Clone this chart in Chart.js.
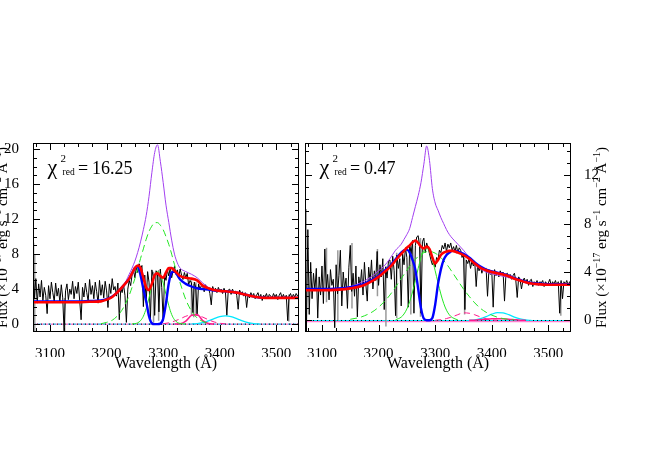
<!DOCTYPE html>
<html>
<head>
<meta charset="utf-8">
<script src="https://cdn.jsdelivr.net/npm/chart.js@4.4.0/dist/chart.umd.min.js"></script>
<style>
  html, body { margin: 0; padding: 0; background: #fff; }
  #wrap { position: relative; width: 664px; height: 475px; }
  canvas { position: absolute; left: 0; top: 0; }
</style>
</head>
<body>
<div id="wrap">
  <canvas id="left" width="664" height="475"></canvas>
  <canvas id="right" width="664" height="475"></canvas>
</div>
<script>
// observed spectra, 2.5 A steps
const specWave = [
  3070, 3072.5, 3075, 3077.5, 3080, 3082.5, 3085, 3087.5, 3090, 3092.5,
  3095, 3097.5, 3100, 3102.5, 3105, 3107.5, 3110, 3112.5, 3115, 3117.5,
  3120, 3122.5, 3125, 3127.5, 3130, 3132.5, 3135, 3137.5, 3140, 3142.5,
  3145, 3147.5, 3150, 3152.5, 3155, 3157.5, 3160, 3162.5, 3165, 3167.5,
  3170, 3172.5, 3175, 3177.5, 3180, 3182.5, 3185, 3187.5, 3190, 3192.5,
  3195, 3197.5, 3200, 3202.5, 3205, 3207.5, 3210, 3212.5, 3215, 3217.5,
  3220, 3222.5, 3225, 3227.5, 3230, 3232.5, 3235, 3237.5, 3240, 3242.5,
  3245, 3247.5, 3250, 3252.5, 3255, 3257.5, 3260, 3262.5, 3265, 3267.5,
  3270, 3272.5, 3275, 3277.5, 3280, 3282.5, 3285, 3287.5, 3290, 3292.5,
  3295, 3297.5, 3300, 3302.5, 3305, 3307.5, 3310, 3312.5, 3315, 3317.5,
  3320, 3322.5, 3325, 3327.5, 3330, 3332.5, 3335, 3337.5, 3340, 3342.5,
  3345, 3347.5, 3350, 3352.5, 3355, 3357.5, 3360, 3362.5, 3365, 3367.5,
  3370, 3372.5, 3375, 3377.5, 3380, 3382.5, 3385, 3387.5, 3390, 3392.5,
  3395, 3397.5, 3400, 3402.5, 3405, 3407.5, 3410, 3412.5, 3415, 3417.5,
  3420, 3422.5, 3425, 3427.5, 3430, 3432.5, 3435, 3437.5, 3440, 3442.5,
  3445, 3447.5, 3450, 3452.5, 3455, 3457.5, 3460, 3462.5, 3465, 3467.5,
  3470, 3472.5, 3475, 3477.5, 3480, 3482.5, 3485, 3487.5, 3490, 3492.5,
  3495, 3497.5, 3500, 3502.5, 3505, 3507.5, 3510, 3512.5, 3515, 3517.5,
  3520, 3522.5, 3525, 3527.5, 3530, 3532.5, 3535, 3537.5, 3540
];
const specLeft = [
  6.5, 3.0, 5.2, 2.4, 4.6, 3.1, 5.0, 2.7, 4.2, 3.3,
  1.2, 4.4, 2.9, 4.8, 3.6, 2.6, 4.7, 3.2, 4.1, 2.5,
  4.5, 3.0, -0.9, 3.8, 4.6, 2.8, 4.0, 3.4, 4.9, 2.9,
  4.3, 3.5, 4.8, 2.7, 0.5, 4.2, 3.1, 4.7, 3.6, 2.6,
  5.1, 3.4, 4.4, 2.9, 4.8, 3.7, 2.4, 5.0, 3.3, 4.5,
  3.0, 4.9, 3.8, 1.9, 4.6, 3.5, 5.2, 3.9, 4.3, 3.2,
  4.7, 0.5, 4.1, 3.6, 4.5, 3.3, 0.2, 4.0, 5.0, 4.4,
  5.6, 6.2, 5.3, 6.5, 5.9, 6.9, 6.3, 6.7, 2.0, 5.6,
  2.5, 6.0, 4.8, 0.6, 6.2, 5.4, 1.0, 6.1, 5.7, 1.4,
  6.3, 4.2, 0.4, 5.6, 5.0, 6.2, 5.5, 6.5, 5.3, 6.1,
  6.6, 5.7, 6.2, 5.4, 6.3, 5.6, 5.1, 5.9, 5.3, 5.8,
  4.5, 5.0, 4.7, 1.3, 4.8, 4.2, 1.0, 4.6, 4.0, 4.4,
  4.3, 3.7, 4.5, 3.9, 4.2, 3.5, 2.2, 4.3, 3.8, 4.1,
  3.6, 4.2, 3.8, 4.0, 3.5, 4.1, 3.7, 1.0, 3.9, 4.0,
  3.4, 4.0, 3.6, 3.8, 3.3, 1.7, 3.9, 3.5, 3.7, 3.2,
  3.6, 1.9, 3.4, 3.0, 3.6, 3.2, 3.5, 2.9, 3.3, 3.6,
  3.0, 3.4, 2.7, 3.3, 3.1, 3.5, 2.9, 3.4, 3.2, 3.0,
  3.5, 3.1, 3.4, 2.8, 3.3, 3.6, 3.0, 3.4, 2.9, 3.3,
  0.4, 3.2, 3.5, 3.0, 3.4, 3.1, 3.5, 3.2, 3.4
];
const specRight = [
  9.2, -0.9, 7.5, 0.5, 4.8, 1.8, 3.9, 2.5, 4.3, 0.2,
  3.6, 2.1, 4.5, 1.4, 5.9, 2.6, 3.8, 1.7, 4.2, 2.9,
  3.4, -0.6, 4.6, 2.2, 3.7, 5.8, 1.2, 4.0, 2.6, 3.5,
  1.0, 4.4, 6.2, 2.4, 3.9, 2.0, 4.5, 0.3, 3.6, 2.8,
  4.2, 2.1, 4.8, 3.0, 1.6, 4.4, 3.2, 5.0, 2.6, 4.1,
  3.3, 5.7, 2.9, 4.6, 3.6, 5.1, 0.9, 4.4, 3.5, 4.9,
  5.0, 3.4, 5.3, 4.1, 0.4, 5.4, 4.3, 5.1, 1.2, 5.5,
  4.6, 6.0, 5.2, 1.1, 6.3, 5.5, 6.6, 0.6, 6.2, 6.9,
  7.0, 6.1, 0.6, 6.5, 6.8, 5.6, 6.4, 6.0, 5.5, 5.0,
  4.6, 4.9, 4.4, 5.2, 5.0, 5.8, 5.6, 6.2, 5.9, 6.4,
  5.7, 6.3, 6.0, 6.4, 5.8, 6.1, 5.7, 6.2, 5.6, 6.0,
  5.8, 5.2, 5.5, 0.9, 5.0, 4.7, 5.1, 4.3, 4.9, 4.5,
  4.8, 2.8, 4.6, 4.1, 4.5, 3.9, 4.4, 4.2, 4.3, 2.0,
  4.2, 3.8, 4.1, 1.1, 4.2, 3.7, 4.0, 3.6, 4.1, 3.8,
  4.0, 1.6, 3.8, 3.9, 3.5, 3.8, 3.4, 3.7, 3.9, 3.3,
  1.9, 3.6, 3.4, 2.6, 3.3, 3.5, 3.1, 3.4, 2.9, 3.3,
  3.4, 2.8, 3.2, 3.0, 3.3, 2.9, 3.2, 3.1, 3.3, 2.8,
  3.2, 3.0, 3.1, 3.4, 2.9, 3.2, 3.0, 3.3, 2.9, 3.2,
  0.6, 3.3, 1.8, 3.2, 3.0, 3.3, 2.9, 3.2, 3.0
];

// masked pixels (grey), null breaks the line
const greyLeftWave = [3071, 3071, 3071, 3073, 3073, 3073, 3126, 3126, 3126, 3283, 3283, 3283,
  3292, 3292, 3292, 3350, 3350, 3350, 3354, 3354, 3354, 3358, 3358, 3358, 3522, 3522, 3522];
const greyLeftFlux = [9.3, -0.9, null, 8.0, -0.9, null, 3.0, -0.9, null, 6.0, 0.2, null,
  6.2, 0.4, null, 5.0, 1.0, null, 4.6, 0.8, null, 4.8, 1.2, null, 3.4, 0.3, null];
const greyRightWave = [3072, 3072, 3072, 3108, 3108, 3108, 3128, 3128, 3128, 3153, 3153, 3153,
  3198, 3198, 3198, 3213, 3213, 3213, 3232, 3232, 3232, 3257, 3257, 3257, 3274, 3274, 3274,
  3352, 3352, 3352, 3522, 3522, 3522];
const greyRightFlux = [9.2, -0.9, null, 6.0, 1.5, null, 5.8, 0.0, null, 6.4, 1.0, null,
  5.9, 2.0, null, 4.5, -0.5, null, 5.6, 0.2, null, 6.0, 0.5, null, 6.8, 0.3, null,
  5.2, 0.5, null, 3.2, 0.4, null];

// full-range model curves
const modelWave = [
  3070, 3100, 3130, 3150, 3170, 3190, 3200, 3210, 3220, 3230,
  3240, 3245, 3250, 3255, 3260, 3265, 3270, 3275, 3280, 3285,
  3290, 3295, 3300, 3305, 3310, 3315, 3320, 3325, 3330, 3340,
  3350, 3360, 3370, 3380, 3390, 3400, 3410, 3420, 3430, 3440,
  3450, 3460, 3470, 3480, 3500, 3520, 3540
];
const leftPurple = [
  2.5, 2.5, 2.5, 2.55, 2.6, 2.7, 2.85, 3.1, 3.6, 4.4,
  5.7, 6.4, 7.2, 8.2, 9.4, 10.8, 12.4, 14.6, 17.3, 19.6,
  20.5, 18.6, 16.2, 13.6, 11.6, 9.6, 8.0, 7.0, 6.4, 6.0,
  5.7, 5.3, 4.7, 4.2, 3.95, 3.85, 3.8, 3.75, 3.65, 3.5,
  3.3, 3.15, 3.05, 3.0, 3.0, 3.0, 3.0
];
const leftRed = [
  2.5, 2.5, 2.5, 2.5, 2.55, 2.6, 2.8, 3.1, 3.7, 4.4,
  5.2, 5.8, 6.4, 6.7, 6.4, 5.3, 4.2, 3.9, 4.6, 5.6,
  5.8, 5.5, 5.3, 5.9, 6.4, 6.4, 6.1, 5.8, 5.5, 5.3,
  5.2, 5.0, 4.4, 4.1, 3.9, 3.8, 3.75, 3.7, 3.6, 3.45,
  3.3, 3.15, 3.05, 3.0, 3.0, 3.0, 3.0
];
const leftBlue = [
  2.6, 2.6, 2.6, 2.6, 2.65, 2.7, 2.85, 3.15, 3.7, 4.4,
  5.2, 5.8, 6.4, 6.6, 5.6, 4.0, 2.6, 0.9, 0.1, 0.0,
  0.0, 0.05, 0.6, 2.4, 4.7, 5.9, 6.0, 5.6, 5.1, 4.6,
  4.3, 4.1, 4.0, 3.95, 3.85, 3.8, 3.75, 3.7, 3.6, 3.45,
  3.3, 3.15, 3.05, 3.0, 3.0, 3.0, 3.0
];
const rightPurple = [
  2.5, 2.5, 2.6, 2.8, 3.15, 3.7, 4.1, 4.5, 5.1, 5.8,
  6.3, 6.7, 7.1, 7.6, 8.5, 9.4, 10.3, 11.4, 12.9, 14.4,
  13.2, 10.9, 9.7, 9.1, 8.5, 8.0, 7.5, 7.1, 6.8, 6.3,
  5.8, 5.2, 4.6, 4.25, 4.0, 3.85, 3.75, 3.65, 3.55, 3.4,
  3.25, 3.1, 3.0, 2.95, 2.95, 2.95, 2.95
];
const rightRed = [
  2.5, 2.5, 2.55, 2.65, 2.85, 3.3, 3.6, 4.0, 4.4, 4.95,
  5.5, 5.75, 6.0, 6.2, 6.45, 6.6, 6.4, 6.1, 5.95, 6.1,
  5.9, 5.2, 4.7, 5.0, 5.4, 5.6, 5.7, 5.75, 5.75, 5.6,
  5.4, 5.1, 4.7, 4.35, 4.15, 4.0, 3.9, 3.8, 3.65, 3.45,
  3.3, 3.15, 3.05, 3.0, 2.95, 2.95, 2.95
];
const rightBlue = [
  2.6, 2.6, 2.65, 2.75, 2.95, 3.4, 3.7, 4.1, 4.5, 5.05,
  5.6, 5.8, 5.85, 5.6, 5.0, 4.2, 2.6, 1.0, 0.15, 0.02,
  0.02, 0.2, 1.3, 3.0, 4.2, 5.0, 5.4, 5.6, 5.75, 5.7,
  5.5, 5.2, 4.8, 4.45, 4.2, 4.05, 3.95, 3.85, 3.7, 3.5,
  3.35, 3.2, 3.1, 3.05, 3.0, 3.0, 3.0
];

// fit components, left panel
const leftBroadWave = [3190, 3200, 3210, 3220, 3230, 3240, 3245, 3250, 3255, 3260, 3265, 3270, 3275, 3280, 3285,
  3290, 3295, 3300, 3305, 3310, 3315, 3320, 3325, 3330, 3340, 3350, 3360, 3370, 3380];
const leftBroadFlux = [0.05, 0.2, 0.45, 1.0, 1.9, 3.3, 4.2, 5.2, 6.3, 7.5, 8.6, 9.7, 10.6, 11.2, 11.6,
  11.6, 11.3, 10.8, 10.0, 9.1, 8.0, 6.8, 5.7, 4.7, 2.8, 1.5, 0.7, 0.3, 0.1];
const leftNarrowWave = [3245, 3250, 3255, 3260, 3265, 3270, 3275, 3280, 3285, 3290,
  3295, 3300, 3305, 3310, 3315, 3320, 3325, 3330, 3340];
const leftNarrowFlux = [0.02, 0.05, 0.15, 0.4, 0.9, 1.8, 3.0, 4.4, 5.5, 6.0,
  5.7, 4.7, 3.4, 2.1, 1.1, 0.5, 0.2, 0.07, 0.01];
const leftPinkDashWave = [3300, 3310, 3320, 3330, 3340, 3350, 3360, 3370, 3380, 3390, 3400, 3410];
const leftPinkDashFlux = [0.05, 0.15, 0.35, 0.6, 0.9, 1.05, 1.0, 0.8, 0.5, 0.25, 0.1, 0.03];
const leftPinkWave = [3320, 3330, 3340, 3350, 3360, 3370, 3380, 3390];
const leftPinkFlux = [0.01, 0.05, 0.35, 1.0, 1.1, 0.4, 0.08, 0.01];
const leftCyanWave = [3350, 3360, 3370, 3380, 3390, 3400, 3410, 3420, 3430, 3440, 3450, 3460, 3470];
const leftCyanFlux = [0.02, 0.07, 0.18, 0.37, 0.63, 0.86, 0.95, 0.86, 0.63, 0.37, 0.18, 0.07, 0.02];

// fit components, right panel
const rightBroadWave = [3150, 3170, 3190, 3200, 3210, 3220, 3230,
  3240, 3245, 3250, 3255, 3260, 3265, 3270, 3275, 3280, 3285, 3290, 3295, 3300, 3305, 3310, 3315, 3320, 3325, 3330,
  3340, 3350, 3360, 3370, 3380, 3390, 3400, 3410, 3420, 3430, 3440];
const rightBroadFlux = [0.1, 0.3, 0.74, 1.1, 1.55, 2.1, 2.76,
  3.46, 3.8, 4.15, 4.48, 4.78, 5.05, 5.29, 5.47, 5.6, 5.68, 5.7, 5.66, 5.56, 5.4, 5.2, 4.95, 4.67, 4.35, 4.0,
  3.3, 2.6, 2.0, 1.45, 1.0, 0.68, 0.44, 0.27, 0.16, 0.09, 0.05];
const rightNarrowWave = [3230, 3240, 3245, 3250, 3255, 3260, 3265, 3270, 3275, 3280, 3285,
  3290, 3295, 3300, 3305, 3310, 3315, 3320, 3325, 3330, 3340];
const rightNarrowFlux = [0.06, 0.28, 0.54, 0.95, 1.56, 2.36, 3.31, 4.31, 5.19, 5.77, 5.96,
  5.69, 5.03, 4.11, 3.12, 2.19, 1.42, 0.85, 0.47, 0.25, 0.05];
const rightPinkDashWave = [3300, 3310, 3320, 3330, 3340, 3350, 3360, 3370, 3380, 3390, 3400, 3410];
const rightPinkDashFlux = [0.02, 0.07, 0.16, 0.3, 0.48, 0.63, 0.6, 0.47, 0.29, 0.14, 0.05, 0.02];
const rightPinkWave = [3360, 3370, 3380, 3390, 3400, 3410, 3420, 3430, 3440, 3450, 3460];
const rightPinkFlux = [0.01, 0.03, 0.07, 0.11, 0.14, 0.15, 0.14, 0.11, 0.07, 0.03, 0.01];
const rightCyanWave = [3360, 3370, 3380, 3390, 3400, 3410, 3420, 3430, 3440, 3450, 3460, 3470];
const rightCyanFlux = [0.02, 0.06, 0.16, 0.32, 0.52, 0.65, 0.63, 0.48, 0.28, 0.13, 0.05, 0.01];

// zero levels
const baseWave = [3070, 3540];
const baseZero = [0, 0];
const basePinkRight = [-0.1, -0.1];

// axes
const xTicks = [3100, 3200, 3300, 3400, 3500];
const yTicksLeft = [0, 4, 8, 12, 16, 20];
const yTicksRight = [0, 4, 8, 12];
const chiLeft = '16.25';
const chiRight = '0.47';
const fluxParts = [['Flux (\u00d710', 0], ['\u221217', 1], [' erg s', 0], ['\u22121', 1],
  [' cm', 0], ['\u22122', 1], [' \u00c5', 0], ['\u22121', 1], [')', 0]];

const SERIF = "'Liberation Serif', 'DejaVu Serif', 'Times New Roman', serif";
Chart.defaults.font.family = SERIF;
Chart.defaults.color = '#000';

function pts(xs, ys) {
  return xs.map((x, i) => ({ x: x, y: ys[i] }));
}

function line(xs, ys, color, width, order, extra) {
  return Object.assign({
    data: pts(xs, ys),
    borderColor: color,
    borderWidth: width,
    pointRadius: 0,
    pointHoverRadius: 0,
    fill: false,
    order: order,
    cubicInterpolationMode: 'monotone',
    spanGaps: false
  }, extra || {});
}

function drawFluxTitle(ctx, x, y) {
  ctx.save();
  ctx.translate(x, y);
  ctx.rotate(-Math.PI / 2);
  const big = '15px ' + SERIF, small = '10px ' + SERIF;
  let total = 0;
  fluxParts.forEach(p => { ctx.font = p[1] ? small : big; total += ctx.measureText(p[0]).width; });
  let cx = -total / 2;
  ctx.textAlign = 'left';
  ctx.textBaseline = 'alphabetic';
  fluxParts.forEach(p => {
    ctx.font = p[1] ? small : big;
    ctx.fillText(p[0], cx, p[1] ? -6 : 0);
    cx += ctx.measureText(p[0]).width;
  });
  ctx.restore();
}

// frame with inward ticks on all four sides, chi^2 label and axis titles
const framePlugin = {
  id: 'frame',
  afterDraw(chart, args, opts) {
    const ctx = chart.ctx, a = chart.chartArea;
    const xs = chart.scales.x, ys = chart.scales.y;
    ctx.save();
    ctx.strokeStyle = '#000';
    ctx.lineWidth = 1;
    ctx.strokeRect(a.left + 0.5, a.top + 0.5, a.right - a.left - 1, a.bottom - a.top - 1);
    ctx.beginPath();
    for (let v = 3075; v <= xs.max; v += 25) {
      const px = Math.round(xs.getPixelForValue(v)) + 0.5;
      const len = v % 100 === 0 ? 7 : 4;
      ctx.moveTo(px, a.bottom); ctx.lineTo(px, a.bottom - len);
      ctx.moveTo(px, a.top); ctx.lineTo(px, a.top + len);
    }
    for (let v = Math.ceil(ys.min); v <= ys.max; v += 1) {
      const py = Math.round(ys.getPixelForValue(v)) + 0.5;
      const len = v % 4 === 0 ? 7 : 4;
      ctx.moveTo(a.left, py); ctx.lineTo(a.left + len, py);
      ctx.moveTo(a.right, py); ctx.lineTo(a.right - len, py);
    }
    ctx.stroke();

    const L = a.left, T = a.top;
    ctx.fillStyle = '#000';
    ctx.textAlign = 'left';
    ctx.textBaseline = 'alphabetic';
    ctx.font = '22px ' + SERIF;
    ctx.fillText('\u03c7', L + 14.5, T + 31);
    ctx.font = '11px ' + SERIF;
    ctx.fillText('2', L + 27.5, T + 18.5);
    ctx.font = '9.5px ' + SERIF;
    ctx.fillText('red', L + 29.5, T + 32);
    ctx.font = '18px ' + SERIF;
    ctx.fillText('=', L + 45, T + 31);
    ctx.fillText(opts.chi, L + 59, T + 31);

    ctx.font = '16px ' + SERIF;
    ctx.textAlign = 'center';
    ctx.fillText('Wavelength (\u00c5)', (a.left + a.right) / 2, a.bottom + 36);

    drawFluxTitle(ctx, opts.titleX, (a.top + a.bottom) / 2);
    ctx.restore();
  }
};

function makeChart(id, cfg) {
  return new Chart(document.getElementById(id), {
    type: 'line',
    data: { datasets: cfg.datasets },
    options: {
      responsive: false,
      animation: false,
      events: [],
      layout: { padding: cfg.padding },
      plugins: {
        legend: { display: false },
        tooltip: { enabled: false },
        frame: cfg.frame
      },
      scales: {
        x: {
          type: 'linear', min: 3070, max: 3540,
          grid: { display: false }, border: { display: false },
          ticks: {
            font: { size: 15 }, color: '#000', padding: 5, maxRotation: 0, autoSkip: false,
            callback: v => String(v)
          },
          afterBuildTicks: s => { s.ticks = xTicks.map(v => ({ value: v })); },
          afterFit: s => { s.height = 25; }
        },
        y: {
          type: 'linear', position: cfg.yPos, min: cfg.yMin, max: cfg.yMax,
          grid: { display: false }, border: { display: false },
          ticks: { font: { size: 15 }, color: '#000', padding: cfg.yPad, callback: v => String(v) },
          afterBuildTicks: s => { s.ticks = cfg.yTicks.map(v => ({ value: v })); },
          afterFit: s => { s.width = cfg.yWidth; }
        }
      }
    },
    plugins: [framePlugin]
  });
}

const PURPLE = '#a23ff0', RED = '#ff0000', BLUE = '#0000ff', GREEN = '#22e622',
  PINK = '#ff1a8c', PINKBASE = '#ff7fd0', CYAN = '#00e8ff';

makeChart('left', {
  padding: { left: 0, right: 365, top: 143, bottom: 118 },
  yPos: 'left', yMin: -0.9, yMax: 20.7, yTicks: yTicksLeft, yWidth: 33, yPad: 6,
  frame: { chi: chiLeft, titleX: 7 },
  datasets: [
    line(modelWave, leftRed, RED, 2.6, 1),
    line(modelWave, leftBlue, BLUE, 2.4, 2),
    line(modelWave, leftPurple, PURPLE, 1, 3),
    line(leftNarrowWave, leftNarrowFlux, GREEN, 1, 4),
    line(leftBroadWave, leftBroadFlux, GREEN, 1, 4, { borderDash: [7, 4] }),
    line(leftPinkWave, leftPinkFlux, PINK, 1.5, 5),
    line(leftPinkDashWave, leftPinkDashFlux, PINK, 1, 5, { borderDash: [6, 4] }),
    line(leftCyanWave, leftCyanFlux, CYAN, 1.2, 5),
    line(specWave, specLeft, '#000', 1, 6, { cubicInterpolationMode: 'default', tension: 0 }),
    line(greyLeftWave, greyLeftFlux, '#9a9a9a', 1.5, 7, { cubicInterpolationMode: 'default', tension: 0 }),
    line(baseWave, baseZero, '#000', 1, 8, { borderDash: [1, 3] }),
    line(baseWave, baseZero, CYAN, 1, 9, { borderDash: [3, 2] }),
    line(baseWave, baseZero, PINKBASE, 1.5, 10)
  ]
});

makeChart('right', {
  padding: { left: 305, right: 63, top: 143, bottom: 118 },
  yPos: 'right', yMin: -0.95, yMax: 14.65, yTicks: yTicksRight, yWidth: 30, yPad: 5,
  frame: { chi: chiRight, titleX: 606 },
  datasets: [
    line(modelWave, rightRed, RED, 2.6, 1),
    line(modelWave, rightBlue, BLUE, 2.4, 2),
    line(modelWave, rightPurple, PURPLE, 1, 3),
    line(rightNarrowWave, rightNarrowFlux, GREEN, 1, 4),
    line(rightBroadWave, rightBroadFlux, GREEN, 1, 4, { borderDash: [7, 4] }),
    line(rightPinkWave, rightPinkFlux, PINK, 1.5, 5),
    line(rightPinkDashWave, rightPinkDashFlux, PINK, 1, 5, { borderDash: [6, 4] }),
    line(rightCyanWave, rightCyanFlux, CYAN, 1.2, 5),
    line(specWave, specRight, '#000', 1, 6, { cubicInterpolationMode: 'default', tension: 0 }),
    line(greyRightWave, greyRightFlux, '#9a9a9a', 1.5, 7, { cubicInterpolationMode: 'default', tension: 0 }),
    line(baseWave, baseZero, '#000', 1, 8, { borderDash: [1, 3] }),
    line(baseWave, baseZero, CYAN, 1.2, 9),
    line(baseWave, basePinkRight, PINKBASE, 1.2, 10)
  ]
});
</script>
</body>
</html>
